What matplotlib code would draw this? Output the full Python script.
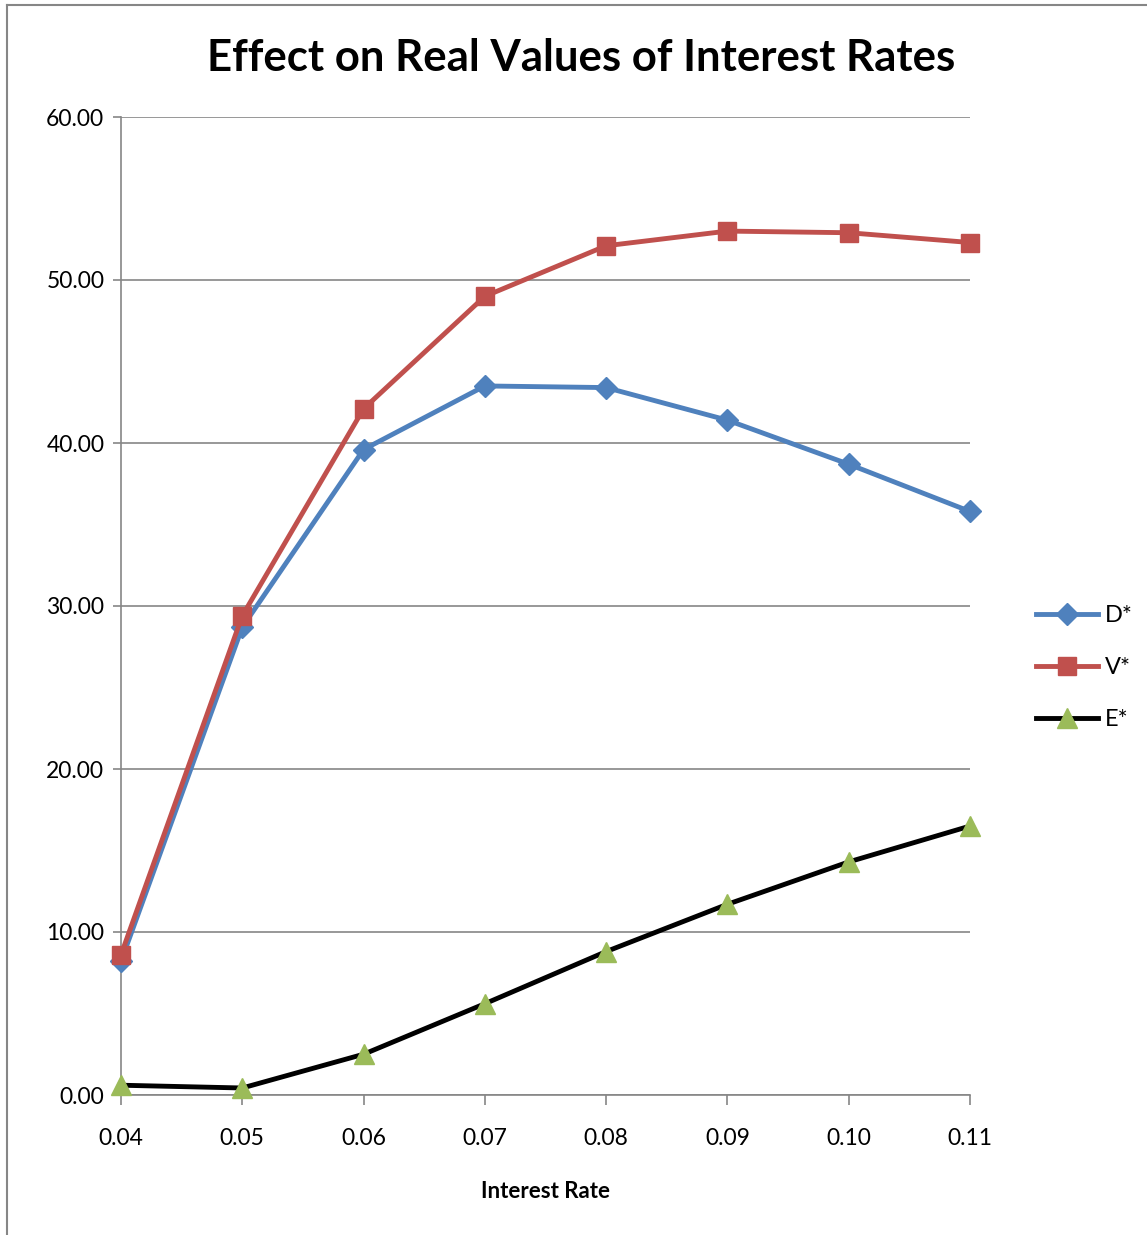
import numpy as np
import matplotlib.pyplot as plt
from matplotlib.lines import Line2D

rates = [0.04, 0.05, 0.06, 0.07, 0.08, 0.09, 0.10, 0.11]
d_star = [8.2, 28.7, 39.6, 43.5, 43.4, 41.4, 38.7, 35.8]
v_star = [8.6, 29.4, 42.1, 49.0, 52.1, 53.0, 52.9, 52.3]
e_star = [0.6, 0.43, 2.5, 5.6, 8.8, 11.7, 14.3, 16.5]

plt.rcParams['font.family'] = ['Lato', 'DejaVu Sans']

fig = plt.figure(figsize=(11.47, 12.35), dpi=100)
ax = fig.add_axes([121 / 1147, 140 / 1235, 849 / 1147, 978 / 1235])

grey = '#868686'
ax.plot(rates, d_star, color='#4F81BD', lw=3.5, marker='D', ms=11,
        mfc='#4F81BD', mec='#4F81BD', clip_on=False, zorder=3, label='D*')
ax.plot(rates, v_star, color='#C0504D', lw=3.5, marker='s', ms=13.5,
        mfc='#C0504D', mec='#C0504D', clip_on=False, zorder=4, label='V*')
ax.plot(rates, e_star, color='black', lw=3.5, marker='^', ms=15,
        mfc='#9BBB59', mec='#9BBB59', clip_on=False, zorder=5, label='E*')

ax.set_xlim(0.04, 0.11)
ax.set_ylim(0, 60)
ax.set_xticks(rates)
ax.set_xticklabels(['%.2f' % r for r in rates])
ax.set_yticks(np.arange(0, 61, 10))
ax.set_yticklabels(['%.2f' % v for v in np.arange(0, 61, 10)])
ax.yaxis.grid(True, color=grey, lw=1.2)
ax.set_axisbelow(True)
for s in ['top', 'right']:
    ax.spines[s].set_visible(False)
for s in ['left', 'bottom']:
    ax.spines[s].set_color(grey)
    ax.spines[s].set_linewidth(1.2)
ax.tick_params(axis='both', colors=grey, labelcolor='black', labelsize=16.5,
               direction='out', length=7, width=1.2)
ax.tick_params(axis='x', pad=17)
ax.tick_params(axis='y', length=6, pad=6)

ax.set_xlabel('Interest Rate', fontsize=16, fontweight='bold', labelpad=23)
fig.text(0.507, 0.953, 'Effect on Real Values of Interest Rates',
         fontsize=31.5, fontweight='bold', ha='center', va='center')

leg = ax.legend(loc='center left', bbox_to_anchor=(1.053, 0.437), frameon=False,
                fontsize=17, handlelength=2.6, labelspacing=1.3,
                handletextpad=0.3)

# chart border (cropped on right/bottom)
fig.add_artist(Line2D([7 / 1147, 1], [1 - 5 / 1235, 1 - 5 / 1235],
                      color=grey, lw=1.5))
fig.add_artist(Line2D([7 / 1147, 7 / 1147], [0, 1 - 5 / 1235],
                      color=grey, lw=1.5))

fig.savefig('out.png', dpi=100)
